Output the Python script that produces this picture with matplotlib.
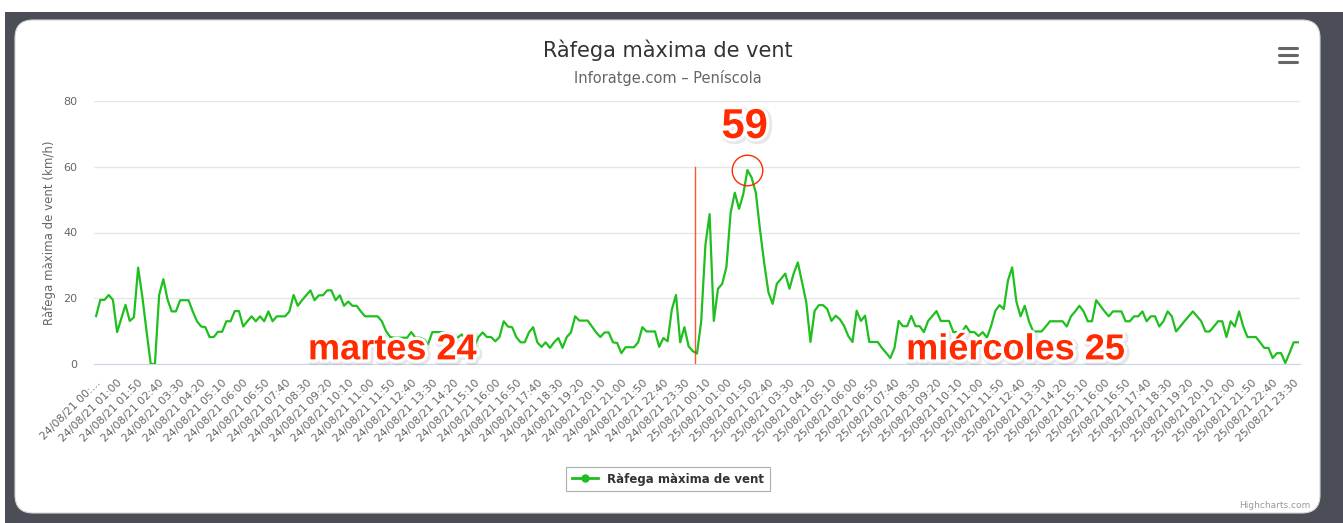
import matplotlib
matplotlib.use("Agg")
import matplotlib.pyplot as plt
import matplotlib.patheffects as pe
from matplotlib.patches import Rectangle, FancyBboxPatch
from matplotlib.lines import Line2D

W, H = 1343, 523

# datos: ràfega màxima cada 10 minuts (km/h)
rafega = [
    14.6, 19.5, 19.5, 21.0, 19.5, 9.7, 13.8, 18.0, 13.1, 14.2,
    29.3, 20.5, 10.0, 0.0, 0.0, 21.0, 25.8, 19.6, 16.0, 16.0,
    19.4, 19.4, 19.4, 16.0, 13.0, 11.4, 11.2, 8.2, 8.2, 9.8,
    9.8, 13.0, 13.0, 16.1, 16.1, 11.4, 13.0, 14.5, 13.0, 14.5,
    13.0, 16.0, 13.0, 14.5, 14.5, 14.5, 16.0, 21.0, 17.7, 19.4,
    20.9, 22.4, 19.4, 20.9, 20.9, 22.4, 22.4, 19.4, 20.9, 17.7,
    19.0, 17.7, 17.7, 16.0, 14.5, 14.5, 14.5, 14.5, 13.0, 10.0,
    8.2, 8.0, 8.0, 8.0, 8.0, 9.7, 8.0, 8.0, 7.5, 6.0,
    9.7, 9.7, 9.7, 9.7, 8.5, 7.0, 8.0, 9.0, 7.0, 7.0,
    5.4, 8.2, 9.6, 8.2, 8.2, 6.9, 8.2, 13.0, 11.4, 11.2,
    8.2, 6.6, 6.6, 9.6, 11.2, 6.6, 5.2, 6.6, 4.9, 6.6,
    7.9, 4.9, 8.2, 9.6, 14.5, 13.2, 13.2, 13.2, 11.4, 9.6,
    8.2, 9.6, 9.6, 6.6, 6.4, 3.3, 5.1, 5.1, 5.1, 6.6,
    11.2, 9.9, 9.9, 9.9, 5.2, 7.9, 6.9, 16.5, 21.0, 6.6,
    11.2, 5.4, 3.9, 3.2, 13.0, 36.2, 45.6, 13.1, 22.9, 24.4,
    29.5, 46.0, 52.1, 47.2, 51.6, 59.0, 56.7, 52.1, 40.8, 30.6,
    21.8, 18.3, 24.4, 25.9, 27.5, 22.9, 27.5, 30.9, 24.9, 18.8,
    6.7, 16.2, 17.9, 17.9, 16.7, 13.1, 14.7, 13.6, 11.6, 8.5,
    6.7, 16.2, 13.1, 14.7, 6.7, 6.7, 6.7, 4.9, 3.4, 1.8,
    4.9, 13.1, 11.5, 11.5, 14.6, 11.5, 11.5, 9.7, 13.1, 14.6,
    16.1, 13.1, 13.1, 13.1, 9.7, 9.7, 9.7, 11.6, 9.7, 9.7,
    8.5, 9.7, 8.0, 11.6, 16.2, 17.9, 16.7, 25.4, 29.4, 19.0,
    14.5, 17.7, 13.0, 9.9, 9.9, 9.9, 11.4, 13.0, 13.0, 13.0,
    13.0, 11.4, 14.5, 16.0, 17.7, 16.0, 13.0, 13.0, 19.4, 17.7,
    16.0, 14.5, 16.0, 16.0, 16.0, 13.0, 13.0, 14.5, 14.5, 16.0,
    13.0, 14.5, 14.5, 11.4, 13.0, 16.0, 14.5, 9.9, 11.4, 13.0,
    14.5, 16.0, 14.5, 13.0, 9.9, 9.9, 11.4, 13.0, 13.0, 8.2,
    13.0, 11.4, 16.0, 11.4, 8.2, 8.2, 8.2, 6.6, 4.9, 4.9,
    1.8, 3.3, 3.3, 0.3, 3.3, 6.6, 6.6,
]

dias = ["24/08/21", "25/08/21"]
horas = ["00:10", "01:00", "01:50", "02:40", "03:30", "04:20", "05:10", "06:00",
         "06:50", "07:40", "08:30", "09:20", "10:10", "11:00", "11:50", "12:40",
         "13:30", "14:20", "15:10", "16:00", "16:50", "17:40", "18:30", "19:20",
         "20:10", "21:00", "21:50", "22:40", "23:30"]
etiquetas_dia = ["martes 24", "miércoles 25"]
titulo = "Ràfega màxima de vent"
subtitulo = "Inforatge.com – Peníscola"
serie = "Ràfega màxima de vent"
eje_y = "Ràfega màxima de vent (km/h)"
y_ticks = [0, 20, 40, 60, 80]

verde = "#1fbf1f"
rojo = "#ff2a00"
gris = "#666666"

plt.rcParams["font.family"] = "DejaVu Sans"

fig = plt.figure(figsize=(W / 100, H / 100), dpi=100)
fig.patch.set_facecolor("white")

# marco oscuro + tarjeta blanca redondeada (en pixeles)
fig.patches.append(Rectangle((5, 0), W - 5, 511, transform=None,
                             facecolor="#4b4e57", edgecolor="none", zorder=0))
fig.patches.append(FancyBboxPatch((15 + 18, 10 + 18), 1305 - 36, 493 - 36,
                                  boxstyle="round,pad=18", transform=None,
                                  facecolor="white", edgecolor="#d5d5d5",
                                  linewidth=0.8, zorder=1))

ax = fig.add_axes([94 / W, 1 - 364 / H, (1300 - 94) / W, (364 - 101) / H])
ax.set_facecolor("none")
ax.set_zorder(2)

x = list(range(len(rafega)))
ax.plot(x, rafega, color=verde, lw=1.6, solid_joinstyle="round", zorder=3)

ax.set_xlim(-0.5, len(rafega) - 0.5)
ax.set_ylim(0, 80)
ax.set_yticks(y_ticks)
ax.grid(axis="y", color="#e6e6e6", lw=1)
ax.set_axisbelow(True)
for s in ["top", "right", "left"]:
    ax.spines[s].set_visible(False)
ax.spines["bottom"].set_color("#ccd6eb")
ax.tick_params(axis="y", length=0, pad=12, labelsize=8, labelcolor=gris)

etiquetas = [d + " " + h for d in dias for h in horas]
etiquetas[0] = "24/08/21 00:…"
ax.set_xticks(x[::5])
ax.set_xticklabels(etiquetas, rotation=45, ha="right", va="top",
                   rotation_mode="anchor", fontsize=7.8, color=gris)
ax.tick_params(axis="x", length=0, pad=10)

ax.set_ylabel(eje_y, fontsize=8.5, color=gris, labelpad=5)

# anotaciones
efecto = [pe.Stroke(linewidth=6, foreground="#888888", alpha=0.2, offset=(1.2, -1.2)),
          pe.Stroke(linewidth=4.5, foreground="white"),
          pe.Normal()]
pico = max(range(len(rafega)), key=lambda i: rafega[i])
ax.plot(pico, rafega[pico], "o", ms=22, mfc="none", mec=rojo, mew=1, zorder=4)
ax.annotate(f"{rafega[pico]:.0f}", xy=(pico, rafega[pico]), xytext=(-2, 31),
            textcoords="offset points", ha="center", va="center",
            fontsize=30, fontweight="bold", color=rojo,
            family="Liberation Sans", path_effects=efecto, zorder=5)
ax.plot([142.5, 142.5], [0, 60], color=rojo, lw=1, alpha=0.8, zorder=4)
for xt, txt in zip([70.5, 218.8], etiquetas_dia):
    ax.text(xt, 4.3, txt, ha="center", va="center", fontsize=26,
            fontweight="bold", color=rojo, family="Liberation Sans",
            path_effects=efecto, zorder=5, clip_on=False)

fig.text(668 / W, 1 - 50 / H, titulo, ha="center", va="center",
         fontsize=15, color="#333333")
fig.text(668 / W, 1 - 78 / H, subtitulo, ha="center", va="center",
         fontsize=10.5, color=gris)

# legenda
handle = Line2D([], [], color=verde, lw=2, marker="o", ms=5)
leg = fig.legend([handle], [serie], loc="center",
                 bbox_to_anchor=(668 / W, 1 - 479 / H), frameon=True,
                 fancybox=False, edgecolor="#999999", handlelength=2.2,
                 borderpad=0.5, prop={"weight": "bold", "size": 8.5})
leg.get_frame().set_linewidth(0.8)
for t in leg.get_texts():
    t.set_color("#333333")

# menu
for yy in [48, 55, 62]:
    fig.add_artist(Line2D([1279, 1297], [H - yy, H - yy], transform=None,
                          color=gris, lw=2.2, solid_capstyle="round"))

fig.text(1310 / W, 1 - 506 / H, "Highcharts.com", ha="right", va="center",
         fontsize=6.5, color="#999999")

fig.savefig("out.png", dpi=100)
